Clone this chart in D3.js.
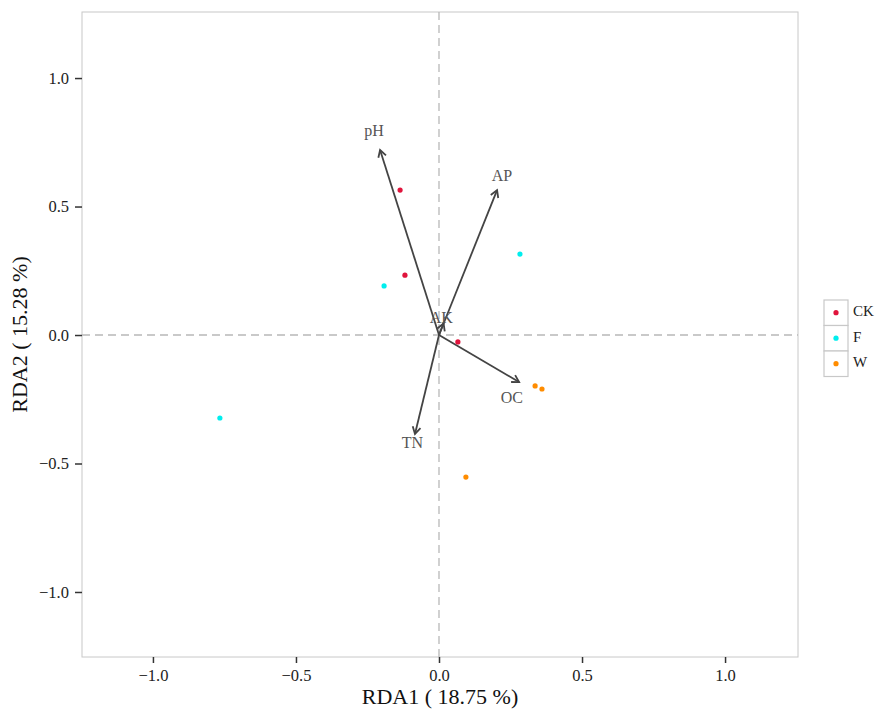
<!DOCTYPE html>
<html>
<head>
<meta charset="utf-8">
<script src="https://cdn.jsdelivr.net/npm/d3@7"></script>
<style>
  body { margin: 0; background: #fff; }
  text { font-family: "Liberation Serif", "DejaVu Serif", serif; }
</style>
</head>
<body>
<div id="chart"></div>
<script>
// sample scores
const groups = ["CK", "F", "W"];
const groupColors = ["#E0143C", "#00EEEE", "#FF8C00"];
const sampleGroup = ["CK", "CK", "CK", "F", "F", "F", "W", "W", "W"];
const sampleRDA1 = [-0.136, -0.119, 0.066, 0.283, -0.192, -0.766, 0.336, 0.360, 0.094];
const sampleRDA2 = [0.564, 0.233, -0.027, 0.315, 0.191, -0.323, -0.198, -0.210, -0.553];

// environmental factor arrows
const envNames = ["pH", "AP", "OC", "TN", "AK"];
const envRDA1 = [-0.206, 0.203, 0.280, -0.084, 0.016];
const envRDA2 = [0.720, 0.564, -0.183, -0.385, 0.045];
const envLabelRDA1 = [-0.227, 0.220, 0.255, -0.093, 0.008];
const envLabelRDA2 = [0.790, 0.615, -0.250, -0.425, 0.060];

const xTicks = [-1.0, -0.5, 0.0, 0.5, 1.0];
const yTicks = [-1.0, -0.5, 0.0, 0.5, 1.0];
const xTitle = "RDA1 ( 18.75 %)";
const yTitle = "RDA2 ( 15.28 %)";

const W = 875, H = 709;
const panel = {left: 82, right: 798, top: 12, bottom: 657};

const svg = d3.select("#chart").append("svg")
    .attr("width", W)
    .attr("height", H);

const x = d3.scaleLinear().domain([-1.248, 1.255]).range([panel.left, panel.right]);
const y = d3.scaleLinear().domain([-1.253, 1.257]).range([panel.bottom, panel.top]);
const color = d3.scaleOrdinal().domain(groups).range(groupColors);

// panel border
svg.append("rect")
    .attr("x", panel.left).attr("y", panel.top)
    .attr("width", panel.right - panel.left)
    .attr("height", panel.bottom - panel.top)
    .attr("fill", "#fff")
    .attr("stroke", "#c8c8c8")
    .attr("stroke-width", 1);

// zero lines
svg.append("line")
    .attr("x1", panel.left).attr("x2", panel.right)
    .attr("y1", y(0)).attr("y2", y(0))
    .attr("stroke", "#b8b8b8").attr("stroke-width", 1.3)
    .attr("stroke-dasharray", "8,5");
svg.append("line")
    .attr("x1", x(0)).attr("x2", x(0))
    .attr("y1", panel.top).attr("y2", panel.bottom)
    .attr("stroke", "#b8b8b8").attr("stroke-width", 1.3)
    .attr("stroke-dasharray", "8,5");

// axes
const fmt = d => d.toFixed(1).replace("-", "\u2212");
const xAxis = svg.append("g")
    .attr("transform", "translate(0," + panel.bottom + ")")
    .call(d3.axisBottom(x).tickValues(xTicks).tickFormat(fmt).tickSize(6).tickPadding(6));
const yAxis = svg.append("g")
    .attr("transform", "translate(" + panel.left + ",0)")
    .call(d3.axisLeft(y).tickValues(yTicks).tickFormat(fmt).tickSize(7).tickPadding(6));
[xAxis, yAxis].forEach(a => {
    a.select(".domain").remove();
    a.selectAll(".tick line").attr("stroke", "#333").attr("stroke-width", 1.5);
    a.selectAll(".tick text")
        .attr("fill", "#222")
        .attr("font-size", 16.5)
        .style("font-family", "'Liberation Serif', serif");
});

svg.append("text")
    .attr("x", (panel.left + panel.right) / 2)
    .attr("y", 704)
    .attr("text-anchor", "middle")
    .attr("font-size", 22)
    .attr("fill", "#111")
    .text(xTitle);
svg.append("text")
    .attr("transform", "translate(27," + ((panel.top + panel.bottom) / 2) + ") rotate(-90)")
    .attr("text-anchor", "middle")
    .attr("font-size", 22)
    .attr("fill", "#111")
    .text(yTitle);

// arrows
const arrowColor = "#444";
const envData = envNames.map((n, i) => ({
    name: n, x: envRDA1[i], y: envRDA2[i], lx: envLabelRDA1[i], ly: envLabelRDA2[i]
}));

const arrows = svg.append("g");
envData.forEach(d => {
    const x0 = x(0), y0 = y(0), x1 = x(d.x), y1 = y(d.y);
    arrows.append("line")
        .attr("x1", x0).attr("y1", y0)
        .attr("x2", x1).attr("y2", y1)
        .attr("stroke", arrowColor)
        .attr("stroke-width", 1.8);
    const ang = Math.atan2(y1 - y0, x1 - x0);
    const len = 8, spread = Math.PI / 6;
    const pts = [
        [x1 - len * Math.cos(ang - spread), y1 - len * Math.sin(ang - spread)],
        [x1, y1],
        [x1 - len * Math.cos(ang + spread), y1 - len * Math.sin(ang + spread)]
    ];
    arrows.append("path")
        .attr("d", d3.line()(pts))
        .attr("fill", "none")
        .attr("stroke", arrowColor)
        .attr("stroke-width", 1.8);
});

svg.append("g").selectAll("text")
    .data(envData)
    .enter().append("text")
    .attr("x", d => x(d.lx))
    .attr("y", d => y(d.ly))
    .attr("text-anchor", "middle")
    .attr("dominant-baseline", "middle")
    .attr("font-size", 16)
    .attr("fill", "#555")
    .text(d => d.name);

// sample points
svg.append("g").selectAll("circle")
    .data(sampleGroup.map((g, i) => ({g: g, x: sampleRDA1[i], y: sampleRDA2[i]})))
    .enter().append("circle")
    .attr("cx", d => x(d.x))
    .attr("cy", d => y(d.y))
    .attr("r", 2.6)
    .attr("fill", d => color(d.g));

// legend
const legend = svg.append("g").attr("transform", "translate(824,300)");
groups.forEach((g, i) => {
    const k = legend.append("g").attr("transform", "translate(0," + (i * 25.5) + ")");
    k.append("rect")
        .attr("width", 24).attr("height", 25.5)
        .attr("fill", "#fff")
        .attr("stroke", "#c8c8c8")
        .attr("stroke-width", 1.2);
    k.append("circle")
        .attr("cx", 12).attr("cy", 12.7)
        .attr("r", 2.6)
        .attr("fill", color(g));
    k.append("text")
        .attr("x", 29).attr("y", 13)
        .attr("dominant-baseline", "middle")
        .attr("font-size", 15)
        .attr("fill", "#222")
        .text(g);
});
</script>
</body>
</html>
